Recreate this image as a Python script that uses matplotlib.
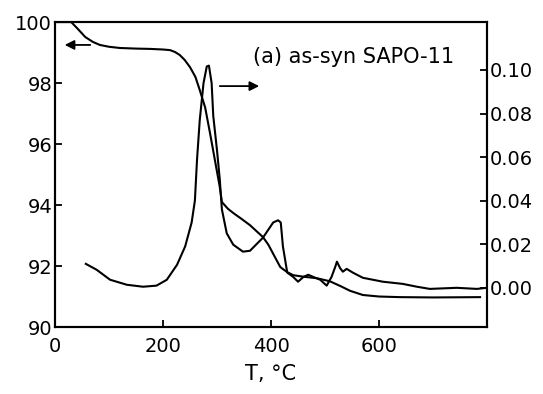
import matplotlib
matplotlib.use("Agg")
import matplotlib.pyplot as plt

# TGA: weight (%) vs temperature
t_tga = [0, 30, 42, 56, 70, 83, 100, 120, 150, 176, 200, 213, 222, 231, 240, 250,
         260, 268, 278, 287, 296, 305, 309, 320, 330, 345, 361, 385, 395, 404,
         417, 422, 430, 441, 460, 485, 509, 530, 546, 570, 600, 639, 700, 787]
w_tga = [100.0, 100.0, 99.78, 99.51, 99.35, 99.25, 99.19, 99.15, 99.13, 99.12,
         99.1, 99.08, 99.02, 98.92, 98.76, 98.52, 98.2, 97.77, 97.2, 96.36, 95.48,
         94.6, 94.1, 93.88, 93.74, 93.55, 93.34, 92.95, 92.7, 92.4, 91.97, 91.9,
         91.8, 91.7, 91.65, 91.6, 91.5, 91.33, 91.19, 91.05, 91.0, 90.98, 90.97,
         90.98]

# DTG: derivative weight vs temperature
t_dtg = [57, 77, 102, 133, 163, 188, 207, 226, 241, 253, 259, 263, 268, 275, 281,
         285, 290, 293, 300, 305, 309, 318, 330, 348, 361, 385, 404, 413, 418,
         422, 430, 441, 450, 460, 469, 478, 491, 503, 512, 519, 522, 528, 533,
         540, 552, 570, 607, 644, 670, 694, 744, 781, 800]
d_dtg = [0.011, 0.0083, 0.0037, 0.0014, 0.0005, 0.001, 0.0037, 0.0106, 0.019,
         0.030, 0.040, 0.059, 0.077, 0.094, 0.1016, 0.102, 0.094, 0.079, 0.063,
         0.050, 0.036, 0.025, 0.0198, 0.0166, 0.017, 0.023, 0.030, 0.031, 0.030,
         0.019, 0.007, 0.005, 0.0028, 0.005, 0.006, 0.005, 0.0037, 0.001, 0.005,
         0.0097, 0.012, 0.009, 0.0074, 0.0087, 0.0069, 0.0046, 0.0028, 0.0018,
         0.0005, -0.0005, 0.0, -0.0005, 0.0]

left_ticks = [90, 92, 94, 96, 98, 100]
right_ticks = [0.00, 0.02, 0.04, 0.06, 0.08, 0.10]
x_ticks = [0, 200, 400, 600]

plt.rcParams["font.family"] = "DejaVu Sans"

fig = plt.figure(figsize=(5.43, 3.94), dpi=100)
ax = fig.add_axes([0.1013, 0.170, 0.7957, 0.774])
ax2 = ax.twinx()

ax.plot(t_tga, w_tga, color="black", lw=1.5)
ax2.plot(t_dtg, d_dtg, color="black", lw=1.5)

ax.set_xlim(0, 800)
ax.set_ylim(90, 100)
ax2.set_ylim(-0.018, 0.122)

ax.set_xticks(x_ticks)
ax.set_yticks(left_ticks)
ax.set_yticklabels([str(v) for v in left_ticks])
ax2.set_yticks(right_ticks)
ax2.set_yticklabels([f"{v:.2f}" for v in right_ticks])

for a in (ax, ax2):
    for s in a.spines.values():
        s.set_linewidth(1.5)
ax.tick_params(direction="in", length=5, width=1.3, labelsize=14, pad=2)
ax.tick_params(axis="x", pad=7)
ax2.tick_params(direction="in", length=5, width=1.3, labelsize=14, pad=2)

ax.set_xlabel("T, °C", fontsize=15, labelpad=6)

ax.text(0.458, 0.885, "(a) as-syn SAPO-11", transform=ax.transAxes,
        fontsize=15, va="center", ha="left")

ax.annotate("", xy=(0.016, 0.925), xytext=(0.088, 0.925),
            xycoords="axes fraction",
            arrowprops=dict(arrowstyle="-|>", color="black", lw=1.3,
                            mutation_scale=14))
ax.annotate("", xy=(0.479, 0.79), xytext=(0.375, 0.79),
            xycoords="axes fraction",
            arrowprops=dict(arrowstyle="-|>", color="black", lw=1.3,
                            mutation_scale=14))

fig.savefig("out.png", dpi=100)
